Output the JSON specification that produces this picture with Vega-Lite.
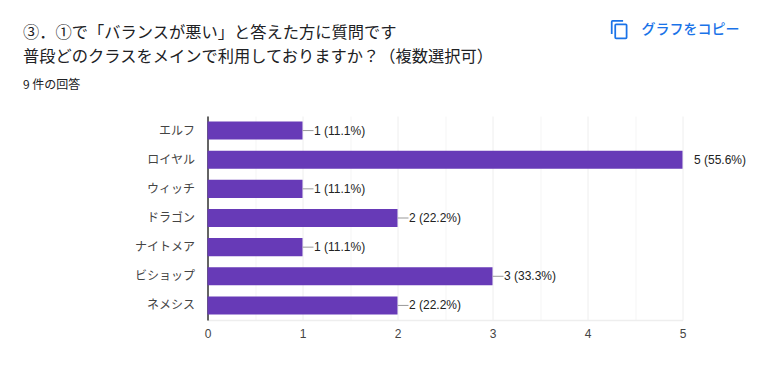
{
"$schema":"https://vega.github.io/schema/vega-lite/v6.json",
"width":475,"height":204,
"autosize":{"type":"none"},
"padding":{"left":207.5,"top":116,"right":84.5,"bottom":57},
"background":"#ffffff",
"title":{"text":["③．①で「バランスが悪い」と答えた方に質問です","普段どのクラスをメインで利用しておりますか？（複数選択可）"],"subtitle":"9 件の回答","anchor":"start","frame":"group","dx":-184.5,"offset":-71,"font":"Noto Sans CJK JP","fontSize":16.25,"fontWeight":"normal","color":"#202124","lineHeight":24,"subtitleFont":"Noto Sans CJK JP","subtitleFontSize":12,"subtitleColor":"#202124","subtitlePadding":14.5},
"config":{"view":{"stroke":null}},
"datasets":{"d":[
{"cls":"エルフ","n":1,"label":"1 (11.1%)"},
{"cls":"ロイヤル","n":5,"label":"5 (55.6%)"},
{"cls":"ウィッチ","n":1,"label":"1 (11.1%)"},
{"cls":"ドラゴン","n":2,"label":"2 (22.2%)"},
{"cls":"ナイトメア","n":1,"label":"1 (11.1%)"},
{"cls":"ビショップ","n":3,"label":"3 (33.3%)"},
{"cls":"ネメシス","n":2,"label":"2 (22.2%)"}
],"link":[{"at":4.58,"icon":"copy","text":"グラフをコピー","cls":"エルフ"}]},
"data":{"name":"d"},
"encoding":{"y":{"field":"cls","type":"nominal","sort":null,"title":null,
"scale":{"paddingInner":0.38,"paddingOuter":0.19},
"axis":{"domainColor":"#333333","domainWidth":1.5,"ticks":false,"labelFont":"Noto Sans CJK JP","labelFontSize":12,"labelColor":"#444444","labelPadding":13,"grid":false}}},
"layer":[
{"mark":{"type":"bar","color":"#673ab7"},
"encoding":{"x":{"field":"n","type":"quantitative","title":null,"scale":{"domain":[0,5],"nice":false},
"axis":{"values":[0,0.5,1,1.5,2,2.5,3,3.5,4,4.5,5],"labelExpr":"datum.value%1==0?datum.value:''","labelFont":"Liberation Sans","labelFontSize":12,"labelColor":"#444444","labelPadding":8,"labelFlush":false,"labelOverlap":false,"ticks":false,"domainColor":"#eeeeee","domainWidth":1.5,"grid":true,"gridColor":{"condition":{"test":"datum.value%1==0","value":"#eeeeee"},"value":"#f5f5f5"},"zindex":0}}}},
{"transform":[{"filter":"datum.n<5"}],"mark":{"type":"rule","color":"#999999","strokeWidth":1,"x2Offset":11},
"encoding":{"x":{"field":"n","type":"quantitative"},"x2":{"field":"n"}}},
{"mark":{"type":"text","align":"left","baseline":"middle","dx":11.5,"font":"Liberation Sans","fontSize":12,"color":"#222222"},
"encoding":{"x":{"field":"n","type":"quantitative"},"text":{"field":"label"}}},
{"data":{"name":"link"},"mark":{"type":"text","align":"left","baseline":"middle","font":"Noto Sans CJK JP","fontSize":14,"fontWeight":500,"color":"#1a73e8","dy":-101,"dx":-1},
"encoding":{"x":{"field":"at","type":"quantitative"},"text":{"field":"text"}}},
{"data":{"name":"link"},"mark":{"type":"point","filled":true,"color":"#1a73e8","opacity":1,"size":1764,"yOffset":-101,"xOffset":-23,
"shape":"M.1667-.4583H-.3333Q-.4167-.4583-.4167-.375V.2083H-.3333V-.375H.1667ZM.2917-.2917H-.1667Q-.25-.2917-.25-.2083V.375Q-.25.4583-.1667.4583H.2917Q.375.4583.375.375V-.2083Q.375-.2917.2917-.2917ZM.2917.375H-.1667V-.2083H.2917Z"},
"encoding":{"x":{"field":"at","type":"quantitative"}}}
]
}
